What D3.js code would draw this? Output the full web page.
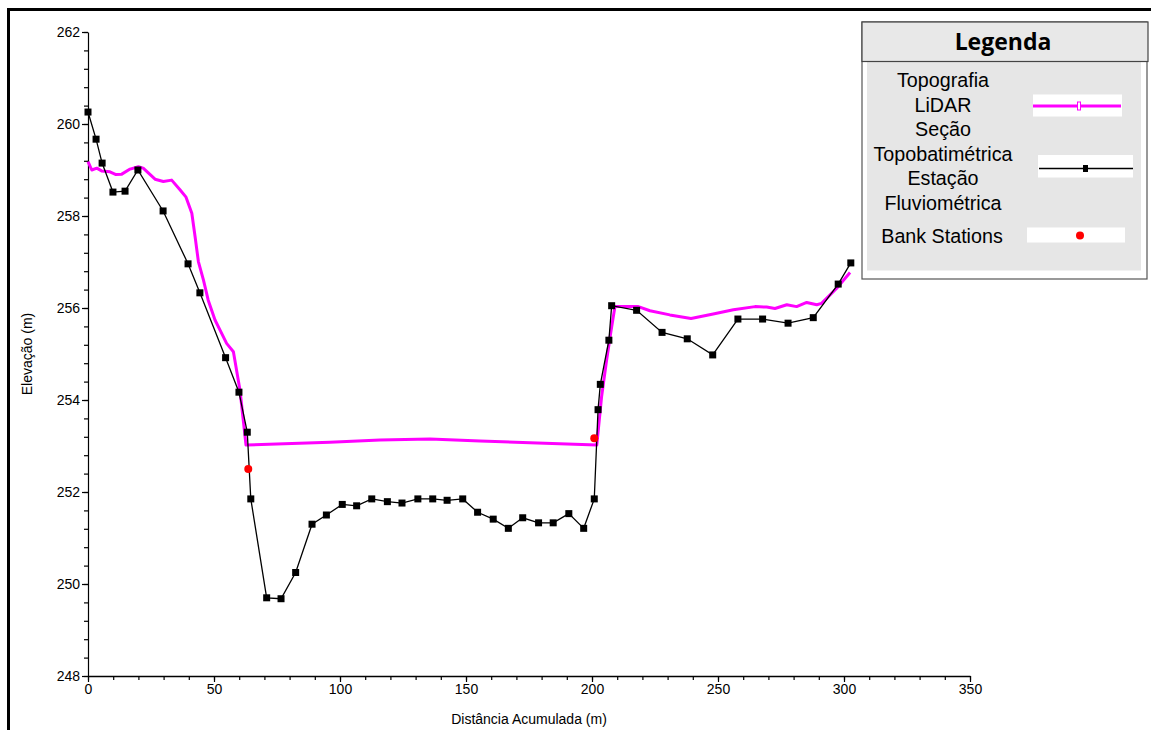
<!DOCTYPE html>
<html>
<head>
	<meta charset="UTF-8">
	<title>Seção transversal</title>
	<script src="https://d3js.org/d3.v7.min.js"></script>
	<style>
		body { margin: 0; background: #fff; }
		text { font-family: "Liberation Sans", Arial, sans-serif; fill: #000; }
		.axis text { font-size: 14px; }
		.axis path, .axis line { stroke: #000; }
		.legend-text { font-size: 19.7px; }
	</style>
</head>
<body>
	<script>
		// Topobathymetric section (surveyed points)
		var secDist = [0, 3.2, 5.6, 9.9, 14.7, 19.8, 29.8, 39.7, 44.4, 54.6, 59.9, 63.2, 64.6, 70.9, 76.6, 82.4,
			88.9, 94.6, 100.9, 106.6, 112.6, 118.8, 124.6, 130.9, 136.8, 142.5, 148.7, 154.6, 160.8, 166.8,
			172.5, 178.8, 184.6, 190.8, 196.7, 200.9, 202.4, 203.3, 206.7, 207.8, 217.7, 227.8, 237.8, 247.9,
			257.9, 267.7, 277.8, 287.8, 297.7, 302.7];
		var secElev = [260.26, 259.67, 259.15, 258.52, 258.54, 259.0, 258.11, 256.96, 256.33, 254.92, 254.17, 253.30,
			251.85, 249.70, 249.68, 250.25, 251.30, 251.50, 251.73, 251.70, 251.85, 251.79, 251.76, 251.85,
			251.85, 251.82, 251.85, 251.56, 251.41, 251.21, 251.44, 251.33, 251.33, 251.53, 251.21, 251.85,
			253.79, 254.34, 255.30, 256.05, 255.95, 255.47, 255.33, 254.98, 255.76, 255.76, 255.67, 255.79,
			256.52, 256.98];

		// LiDAR topography profile
		var lidarDist = [0, 1.5, 3.5, 5.4, 8.7, 11.1, 13.4, 16.7, 20.0, 21.9, 26.6, 29.9, 33.2, 36.5, 38.9, 41.2,
			42.5, 43.8, 45.8, 47.7, 50.4, 52.4, 55.0, 57.7, 60.3, 61.6, 62.7, 96.0, 115.9, 135.7, 155.6, 175.4,
			201.9, 203.8, 205.8, 207.4, 209.1, 218.4, 223.0, 230.9, 239.3, 248.1, 256.1, 264.7, 269.3, 272.6,
			277.3, 281.2, 285.2, 289.2, 291.1, 297.1, 302.4];
		var lidarElev = [259.18, 259.0, 259.04, 258.98, 258.96, 258.90, 258.91, 259.02, 259.07, 259.04, 258.80, 258.75,
			258.78, 258.57, 258.41, 258.06, 257.55, 257.01, 256.61, 256.17, 255.74, 255.52, 255.23, 255.05,
			254.22, 253.57, 253.02, 253.08, 253.13, 253.15, 253.11, 253.07, 253.02, 254.07, 254.87, 255.45,
			256.03, 256.03, 255.94, 255.85, 255.77, 255.87, 255.96, 256.03, 256.02, 255.99, 256.07, 256.03,
			256.12, 256.07, 256.10, 256.43, 256.77];

		// Bank stations
		var bankDist = [63.6, 200.9];
		var bankElev = [252.50, 253.17];

		var xMajor = [0, 50, 100, 150, 200, 250, 300, 350];
		var yMajor = [248, 250, 252, 254, 256, 258, 260, 262];

		var legendLabels = ["Topografia", "LiDAR", "Seção", "Topobatimétrica", "Estação", "Fluviométrica"];

		var width = 1151, height = 730;
		var svg = d3.select("body").append("svg")
			.attr("width", width)
			.attr("height", height);

		// outer frame (cut by the page edges)
		svg.append("rect")
			.attr("x", 8.5).attr("y", 9.5)
			.attr("width", 1300).attr("height", 900)
			.attr("fill", "none").attr("stroke", "#000").attr("stroke-width", 3);

		var x = d3.scaleLinear().domain([0, 350]).range([88, 970]);
		var y = d3.scaleLinear().domain([248, 262]).range([676, 32]);

		// minor ticks
		svg.append("g")
			.attr("class", "axis")
			.attr("transform", "translate(0,676)")
			.call(d3.axisBottom(x).tickValues(d3.range(0, 351, 10)).tickSize(4).tickFormat(""))
			.call(function(g) { g.select(".domain").remove(); });
		svg.append("g")
			.attr("class", "axis")
			.attr("transform", "translate(88,0)")
			.call(d3.axisLeft(y).tickValues(d3.range(0, 36).map(function(i) { return 248 + i * 0.4; })).tickSize(4).tickFormat(""))
			.call(function(g) { g.select(".domain").remove(); });

		// major ticks
		var xAxis = svg.append("g")
			.attr("class", "axis")
			.attr("transform", "translate(0,676)")
			.call(d3.axisBottom(x).tickValues(xMajor).tickSize(6).tickSizeOuter(0).tickPadding(2));
		xAxis.select(".domain").attr("stroke-width", 1.6);

		var yAxis = svg.append("g")
			.attr("class", "axis")
			.attr("transform", "translate(88,0)")
			.call(d3.axisLeft(y).tickValues(yMajor).tickSize(6).tickSizeOuter(0).tickPadding(2));
		yAxis.select(".domain").attr("stroke-width", 1.2);

		svg.selectAll(".axis line").attr("stroke-width", 1.2);

		// axis titles
		svg.append("text")
			.attr("x", 529).attr("y", 724)
			.attr("text-anchor", "middle")
			.style("font-size", "14px")
			.text("Distância Acumulada (m)");

		svg.append("text")
			.attr("transform", "translate(32,354) rotate(-90)")
			.attr("text-anchor", "middle")
			.style("font-size", "14px")
			.text("Elevação (m)");

		var line = d3.line()
			.x(function(d) { return x(d[0]); })
			.y(function(d) { return y(d[1]); });

		var lidar = lidarDist.map(function(d, i) { return [d, lidarElev[i]]; });
		var sec = secDist.map(function(d, i) { return [d, secElev[i]]; });
		var banks = bankDist.map(function(d, i) { return [d, bankElev[i]]; });

		svg.append("path")
			.datum(lidar)
			.attr("d", line)
			.attr("fill", "none")
			.attr("stroke", "#ff00ff")
			.attr("stroke-width", 3)
			.attr("stroke-linejoin", "round");

		svg.append("path")
			.datum(sec)
			.attr("d", line)
			.attr("fill", "none")
			.attr("stroke", "#000")
			.attr("stroke-width", 1.3);

		svg.selectAll(".sec-point")
			.data(sec)
			.enter().append("rect")
			.attr("class", "sec-point")
			.attr("x", function(d) { return x(d[0]) - 3.5; })
			.attr("y", function(d) { return y(d[1]) - 3.5; })
			.attr("width", 7)
			.attr("height", 7)
			.attr("fill", "#000");

		svg.selectAll(".bank")
			.data(banks)
			.enter().append("circle")
			.attr("class", "bank")
			.attr("cx", function(d) { return x(d[0]); })
			.attr("cy", function(d) { return y(d[1]); })
			.attr("r", 4)
			.attr("fill", "#ff0000");

		// legend
		var lg = svg.append("g");
		lg.append("rect")
			.attr("x", 862).attr("y", 22).attr("width", 285).attr("height", 257)
			.attr("fill", "#fff").attr("stroke", "#555").attr("stroke-width", 1.2);
		lg.append("rect")
			.attr("x", 867).attr("y", 61.5).attr("width", 274).attr("height", 209)
			.attr("fill", "#e6e6e6");
		lg.append("rect")
			.attr("x", 862).attr("y", 22).attr("width", 286).attr("height", 39.5)
			.attr("fill", "#e8e8e8").attr("stroke", "#444").attr("stroke-width", 1.2);
		lg.append("text")
			.attr("x", 1003).attr("y", 50)
			.attr("text-anchor", "middle")
			.style("font-family", "'Open Sans', sans-serif")
			.style("font-weight", "700")
			.style("font-size", "23px")
			.text("Legenda");

		lg.selectAll(".legend-text")
			.data(legendLabels)
			.enter().append("text")
			.attr("class", "legend-text")
			.attr("x", 943)
			.attr("y", function(d, i) { return 87 + i * 24.5; })
			.attr("text-anchor", "middle")
			.text(function(d) { return d; });
		lg.append("text")
			.attr("class", "legend-text")
			.attr("x", 942).attr("y", 243)
			.attr("text-anchor", "middle")
			.text("Bank Stations");

		// legend samples
		lg.append("rect").attr("x", 1033).attr("y", 94.5).attr("width", 89).attr("height", 22).attr("fill", "#fff");
		lg.append("line").attr("x1", 1033).attr("x2", 1121).attr("y1", 106).attr("y2", 106)
			.attr("stroke", "#ff00ff").attr("stroke-width", 3);
		lg.append("rect").attr("x", 1077.5).attr("y", 102).attr("width", 3).attr("height", 8)
			.attr("fill", "#fff").attr("stroke", "#ff00ff").attr("stroke-width", 1);

		lg.append("rect").attr("x", 1038).attr("y", 155).attr("width", 95).attr("height", 22.5).attr("fill", "#fff");
		lg.append("line").attr("x1", 1039).attr("x2", 1133).attr("y1", 168.5).attr("y2", 168.5)
			.attr("stroke", "#000").attr("stroke-width", 1.3);
		lg.append("rect").attr("x", 1083).attr("y", 165).attr("width", 5).attr("height", 7).attr("fill", "#000");

		lg.append("rect").attr("x", 1027).attr("y", 227.5).attr("width", 98).attr("height", 15).attr("fill", "#fff");
		lg.append("circle").attr("cx", 1080).attr("cy", 235.5).attr("r", 4).attr("fill", "#ff0000");
	</script>
</body>
</html>
